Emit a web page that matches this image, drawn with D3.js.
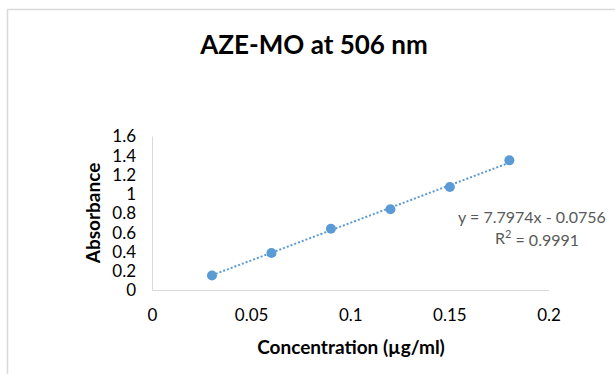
<!DOCTYPE html>
<html>
<head>
<meta charset="utf-8">
<script src="https://cdn.jsdelivr.net/npm/d3@7"></script>
<style>
  html, body { margin: 0; padding: 0; background: #fff; }
  svg { display: block; }
  text { font-family: Lato, "Open Sans", sans-serif; }
</style>
</head>
<body>
<svg id="chart" width="615" height="374"></svg>
<script>
// Data
const concentration = [0.03, 0.06, 0.09, 0.12, 0.15, 0.18];
const absorbance = [0.156, 0.389, 0.642, 0.844, 1.076, 1.352];
const xTicks = [0, 0.05, 0.1, 0.15, 0.2];
const yTicks = [0, 0.2, 0.4, 0.6, 0.8, 1, 1.2, 1.4, 1.6];
const slope = 7.7974, intercept = -0.0756;
const equationLabel = "y = 7.7974x - 0.0756";
const r2Label = "0.9991";
const titleText = "AZE-MO at 506 nm";
const xTitle = "Concentration (µg/ml)";
const yTitle = "Absorbance";

const svg = d3.select("#chart");
const W = 615, H = 374;

// chart frame
svg.append("path")
  .attr("d", `M7.5,${H} V9.5 H${W}`)
  .attr("fill", "none").attr("stroke", "#d9d9d9").attr("stroke-width", 1.5);

const x = d3.scaleLinear().domain([0, 0.2]).range([152.5, 549]);
const y = d3.scaleLinear().domain([0, 1.6]).range([290.5, 136.5]);

// axes lines
svg.append("line").attr("x1", x(0)).attr("x2", x(0.2)).attr("y1", y(0)).attr("y2", y(0))
  .attr("stroke", "#d9d9d9").attr("stroke-width", 1);
svg.append("line").attr("x1", x(0)).attr("x2", x(0)).attr("y1", y(0)).attr("y2", y(1.6))
  .attr("stroke", "#d9d9d9").attr("stroke-width", 1);

const fmt = d => String(d);

// tick labels
svg.append("g").selectAll("text").data(yTicks).join("text")
  .attr("x", 136).attr("y", d => y(d)).attr("dy", "0.35em")
  .attr("text-anchor", "end").attr("font-size", 17).attr("fill", "#000")
  .text(fmt);

svg.append("g").selectAll("text").data(xTicks).join("text")
  .attr("x", d => x(d)).attr("y", 315).attr("dy", "0.35em")
  .attr("text-anchor", "middle").attr("font-size", 17).attr("fill", "#000")
  .text(fmt);

// titles
svg.append("text").attr("x", 314).attr("y", 45).attr("dy", "0.35em")
  .attr("text-anchor", "middle").attr("font-size", 26).attr("font-weight", "bold")
  .text(titleText);
svg.append("text").attr("x", 351).attr("y", 347).attr("dy", "0.35em")
  .attr("text-anchor", "middle").attr("font-size", 19).attr("font-weight", "bold")
  .text(xTitle);
svg.append("text").attr("transform", "translate(93,213) rotate(-90)").attr("dy", "0.35em")
  .attr("text-anchor", "middle").attr("font-size", 19).attr("font-weight", "bold")
  .text(yTitle);

// trendline
const x0 = d3.min(concentration), x1 = d3.max(concentration);
svg.append("line")
  .attr("x1", x(x0)).attr("y1", y(slope * x0 + intercept))
  .attr("x2", x(x1)).attr("y2", y(slope * x1 + intercept))
  .attr("stroke", "#5b9bd5").attr("stroke-width", 2)
  .attr("stroke-dasharray", "2,2");

// points
svg.append("g").selectAll("circle").data(concentration).join("circle")
  .attr("cx", d => x(d)).attr("cy", (d, i) => y(absorbance[i]))
  .attr("r", 5).attr("fill", "#5b9bd5");

// equation label
svg.append("text").attr("x", 532).attr("y", 217).attr("dy", "0.35em")
  .attr("text-anchor", "middle").attr("font-size", 16).attr("fill", "#595959")
  .text(equationLabel);
const r2 = svg.append("text").attr("x", 537).attr("y", 238).attr("dy", "0.35em")
  .attr("text-anchor", "middle").attr("font-size", 16).attr("fill", "#595959");
r2.append("tspan").text("R");
r2.append("tspan").attr("font-size", 11).attr("dy", "-0.5em").text("2");
r2.append("tspan").attr("dy", "0.5em").text(" = " + r2Label);
</script>
</body>
</html>
